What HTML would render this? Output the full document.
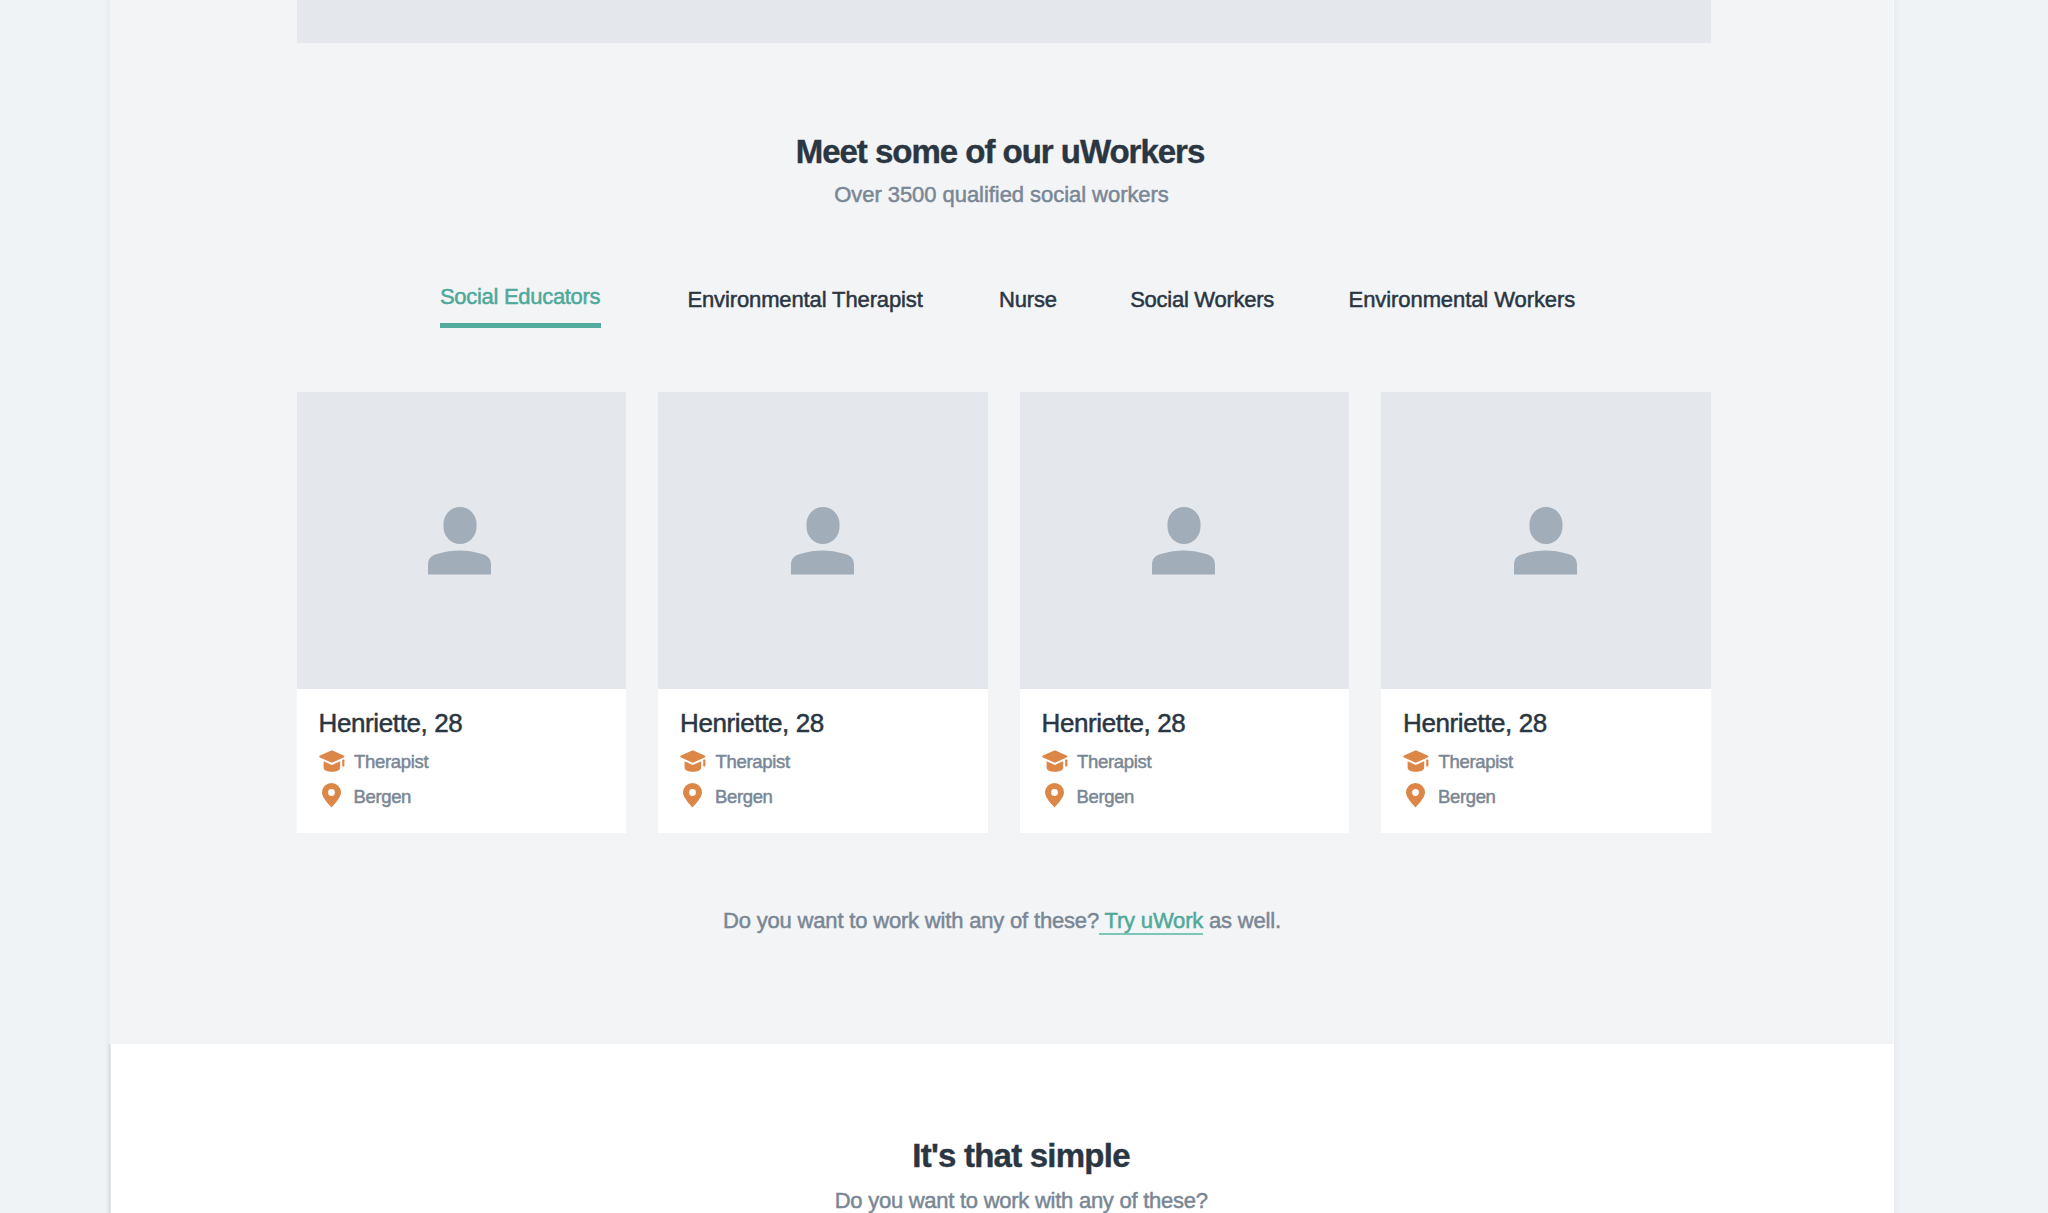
<!DOCTYPE html>
<html>
<head>
<meta charset="utf-8">
<style>
html,body{margin:0;padding:0;}
body{width:2048px;height:1213px;overflow:hidden;background:#f0f3f6;position:relative;font-family:"Liberation Sans",sans-serif;}
.wrap{position:absolute;left:110px;top:-10px;width:1784px;height:1300px;background:#f3f4f6;box-shadow:0 0 8px rgba(20,30,50,0.07);}
.white{position:absolute;left:110px;top:1044px;width:1784px;height:300px;background:#fff;}
.wedge{position:absolute;left:107px;top:1044px;width:4px;height:200px;background:linear-gradient(to right, rgba(20,30,40,0) 0%, rgba(20,30,40,0.05) 50%, rgba(20,30,40,0.13) 100%);}
.topbox{position:absolute;left:296.5px;top:0;width:1414.5px;height:43px;background:#e4e7eb;}
.t{position:absolute;white-space:nowrap;line-height:1;-webkit-text-stroke:0.5px currentColor;}
.h{font-weight:bold;color:#2a3642;-webkit-text-stroke:0.4px currentColor;}
.sub{color:#7a8795;}
.tab{color:#2a3642;}
.active{color:#4ea99a;}
.uline{position:absolute;left:440px;top:323px;width:161px;height:5px;background:#52ab9d;}
.card{position:absolute;top:392px;width:329.5px;height:441px;background:#fff;}
.card .img{position:absolute;left:0;top:0;width:100%;height:297px;background:#e4e7eb;}
.card svg.person{position:absolute;left:132.5px;top:115px;}
.card svg.cap{position:absolute;left:22px;top:357.5px;}
.card svg.pin{position:absolute;left:25.4px;top:390.8px;}
.card .name{left:22.00px;top:317.60px;font-size:26px;letter-spacing:-0.383px;color:#2a3642;}
.card .info{color:#7a8795;}
.card .i1{left:57.50px;top:360.60px;font-size:18.5px;letter-spacing:-0.325px;}
.card .i2{left:57.00px;top:395.60px;font-size:18.5px;letter-spacing:-0.360px;}
.link{color:#4ea99a;background:linear-gradient(#7ec4b8,#7ec4b8) no-repeat;background-size:100% 2px;background-position:0 24.5px;padding-bottom:4px;}
</style>
</head>
<body>
<div class="wrap"></div>
<div class="white"></div>
<div class="wedge"></div>
<div style="position:absolute;left:1893px;top:0;width:1px;height:1044px;background:rgba(255,255,255,0.55);"></div>
<div class="topbox"></div>

<div id="title" class="t h" style="left:0.00px;width:2000px;text-align:center;top:134.60px;font-size:33px;letter-spacing:-1.017px;">Meet some of our uWorkers</div>
<div id="subtitle" class="t sub" style="left:1.50px;width:2000px;text-align:center;top:183.80px;font-size:22px;letter-spacing:-0.050px;">Over 3500 qualified social workers</div>

<div id="tab1" class="t active" style="left:440.00px;top:286.00px;font-size:22px;letter-spacing:-0.300px;">Social Educators</div>
<div class="uline"></div>
<div id="tab2" class="t tab" style="left:687.40px;top:289.00px;font-size:22px;letter-spacing:-0.118px;">Environmental Therapist</div>
<div id="tab3" class="t tab" style="left:999.00px;top:289.00px;font-size:22px;letter-spacing:-0.170px;">Nurse</div>
<div id="tab4" class="t tab" style="left:1130.20px;top:289.00px;font-size:22px;letter-spacing:-0.264px;">Social Workers</div>
<div id="tab5" class="t tab" style="left:1348.60px;top:289.00px;font-size:22px;letter-spacing:-0.080px;">Environmental Workers</div>

<div class="card" style="left:296.5px;"><div class="img"><svg class="person" style="left:131.5px" width="64" height="68" viewBox="0 0 64 68"><rect x="15.5" y="0" width="33" height="37" rx="16.5" ry="17" fill="#a1adb9"/><path d="M0,67.5 L0,58 C0,51 4,48.5 9,47 C17,44.5 25,43.5 31.5,43.5 C38,43.5 46,44.5 54,47 C59,48.5 63,51 63,58 L63,67.5 Z" fill="#a1adb9"/></svg></div><svg class="cap" width="26" height="22" viewBox="0 0 26 22"><path d="M12.8,0.2 L24.6,5.5 C25.7,6 25.7,7 24.6,7.5 L12.8,12.8 L1,7.5 C-0.1,7 -0.1,6 1,5.5 Z" fill="#dc8648"/><path d="M4.6,11.2 L12.8,14.9 L21.2,11.2 L21.2,17.6 C21.2,20.6 17.2,21.8 12.8,21.8 C8.4,21.8 4.6,20.6 4.6,17.6 Z" fill="#dc8648"/><rect x="23.2" y="9.6" width="2.2" height="6.8" rx="0.6" fill="#dc8648"/></svg><svg class="pin" width="19" height="25" viewBox="0 0 19 25"><path fill-rule="evenodd" d="M9.5,24.5 C7.2,21.6 0,14.8 0,9.5 A9.5,9.5 0 1 1 19,9.5 C19,14.8 11.8,21.6 9.5,24.5 Z M9.5,6.1 A3.4,3.4 0 1 0 9.5,12.9 A3.4,3.4 0 1 0 9.5,6.1 Z" fill="#dc8648"/></svg><div id="name" class="t name">Henriette, 28</div><div id="ther" class="t info i1">Therapist</div><div id="berg" class="t info i2">Bergen</div></div>
<div class="card" style="left:658px;"><div class="img"><svg class="person" width="64" height="68" viewBox="0 0 64 68"><rect x="15.5" y="0" width="33" height="37" rx="16.5" ry="17" fill="#a1adb9"/><path d="M0,67.5 L0,58 C0,51 4,48.5 9,47 C17,44.5 25,43.5 31.5,43.5 C38,43.5 46,44.5 54,47 C59,48.5 63,51 63,58 L63,67.5 Z" fill="#a1adb9"/></svg></div><svg class="cap" width="26" height="22" viewBox="0 0 26 22"><path d="M12.8,0.2 L24.6,5.5 C25.7,6 25.7,7 24.6,7.5 L12.8,12.8 L1,7.5 C-0.1,7 -0.1,6 1,5.5 Z" fill="#dc8648"/><path d="M4.6,11.2 L12.8,14.9 L21.2,11.2 L21.2,17.6 C21.2,20.6 17.2,21.8 12.8,21.8 C8.4,21.8 4.6,20.6 4.6,17.6 Z" fill="#dc8648"/><rect x="23.2" y="9.6" width="2.2" height="6.8" rx="0.6" fill="#dc8648"/></svg><svg class="pin" width="19" height="25" viewBox="0 0 19 25"><path fill-rule="evenodd" d="M9.5,24.5 C7.2,21.6 0,14.8 0,9.5 A9.5,9.5 0 1 1 19,9.5 C19,14.8 11.8,21.6 9.5,24.5 Z M9.5,6.1 A3.4,3.4 0 1 0 9.5,12.9 A3.4,3.4 0 1 0 9.5,6.1 Z" fill="#dc8648"/></svg><div class="t name">Henriette, 28</div><div class="t info i1">Therapist</div><div class="t info i2">Bergen</div></div>
<div class="card" style="left:1019.5px;"><div class="img"><svg class="person" width="64" height="68" viewBox="0 0 64 68"><rect x="15.5" y="0" width="33" height="37" rx="16.5" ry="17" fill="#a1adb9"/><path d="M0,67.5 L0,58 C0,51 4,48.5 9,47 C17,44.5 25,43.5 31.5,43.5 C38,43.5 46,44.5 54,47 C59,48.5 63,51 63,58 L63,67.5 Z" fill="#a1adb9"/></svg></div><svg class="cap" width="26" height="22" viewBox="0 0 26 22"><path d="M12.8,0.2 L24.6,5.5 C25.7,6 25.7,7 24.6,7.5 L12.8,12.8 L1,7.5 C-0.1,7 -0.1,6 1,5.5 Z" fill="#dc8648"/><path d="M4.6,11.2 L12.8,14.9 L21.2,11.2 L21.2,17.6 C21.2,20.6 17.2,21.8 12.8,21.8 C8.4,21.8 4.6,20.6 4.6,17.6 Z" fill="#dc8648"/><rect x="23.2" y="9.6" width="2.2" height="6.8" rx="0.6" fill="#dc8648"/></svg><svg class="pin" width="19" height="25" viewBox="0 0 19 25"><path fill-rule="evenodd" d="M9.5,24.5 C7.2,21.6 0,14.8 0,9.5 A9.5,9.5 0 1 1 19,9.5 C19,14.8 11.8,21.6 9.5,24.5 Z M9.5,6.1 A3.4,3.4 0 1 0 9.5,12.9 A3.4,3.4 0 1 0 9.5,6.1 Z" fill="#dc8648"/></svg><div class="t name">Henriette, 28</div><div class="t info i1">Therapist</div><div class="t info i2">Bergen</div></div>
<div class="card" style="left:1381px;"><div class="img"><svg class="person" width="64" height="68" viewBox="0 0 64 68"><rect x="15.5" y="0" width="33" height="37" rx="16.5" ry="17" fill="#a1adb9"/><path d="M0,67.5 L0,58 C0,51 4,48.5 9,47 C17,44.5 25,43.5 31.5,43.5 C38,43.5 46,44.5 54,47 C59,48.5 63,51 63,58 L63,67.5 Z" fill="#a1adb9"/></svg></div><svg class="cap" width="26" height="22" viewBox="0 0 26 22"><path d="M12.8,0.2 L24.6,5.5 C25.7,6 25.7,7 24.6,7.5 L12.8,12.8 L1,7.5 C-0.1,7 -0.1,6 1,5.5 Z" fill="#dc8648"/><path d="M4.6,11.2 L12.8,14.9 L21.2,11.2 L21.2,17.6 C21.2,20.6 17.2,21.8 12.8,21.8 C8.4,21.8 4.6,20.6 4.6,17.6 Z" fill="#dc8648"/><rect x="23.2" y="9.6" width="2.2" height="6.8" rx="0.6" fill="#dc8648"/></svg><svg class="pin" width="19" height="25" viewBox="0 0 19 25"><path fill-rule="evenodd" d="M9.5,24.5 C7.2,21.6 0,14.8 0,9.5 A9.5,9.5 0 1 1 19,9.5 C19,14.8 11.8,21.6 9.5,24.5 Z M9.5,6.1 A3.4,3.4 0 1 0 9.5,12.9 A3.4,3.4 0 1 0 9.5,6.1 Z" fill="#dc8648"/></svg><div class="t name">Henriette, 28</div><div class="t info i1">Therapist</div><div class="t info i2">Bergen</div></div>

<div id="footer" class="t sub" style="left:2.00px;width:2000px;text-align:center;top:910.00px;font-size:22px;letter-spacing:-0.180px;">Do you want to work with any of these?<span class="link"> Try uWork</span> as well.</div>


<div id="simple" class="t h" style="left:21.00px;width:2000px;text-align:center;top:1139.00px;font-size:33px;letter-spacing:-0.767px;">It's that simple</div>
<div id="sub2" class="t sub" style="left:21.20px;width:2000px;text-align:center;top:1189.80px;font-size:22px;letter-spacing:-0.259px;">Do you want to work with any of these?</div>

</body>
</html>
